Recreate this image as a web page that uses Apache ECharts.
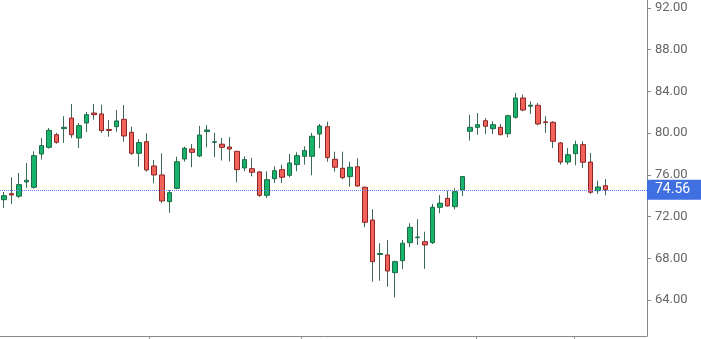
<!DOCTYPE html>
<html><head><meta charset="utf-8">
<script src="https://cdn.jsdelivr.net/npm/echarts@6/dist/echarts.min.js"></script>
<style>html,body{margin:0;padding:0;background:#fff;overflow:hidden}#c{width:701px;height:339px}</style>
</head><body><div id="c"></div>
<script>
const opens  = [73.62,74.20,73.95,75.32,74.81,78.00,78.64,79.85,80.43,81.45,79.54,80.97,81.93,81.84,80.35,80.62,81.33,80.08,78.07,79.18,76.85,75.99,73.43,74.71,77.52,78.48,77.81,80.15,79.12,78.94,78.67,78.26,76.66,76.59,76.28,74.04,75.63,76.50,75.96,76.98,77.78,77.78,79.92,80.62,77.49,76.63,75.83,76.78,74.81,71.67,68.37,68.32,66.62,67.77,69.50,69.98,69.59,69.50,72.89,73.75,72.95,74.55,80.18,80.56,81.19,80.43,80.56,79.95,81.52,83.37,82.58,82.67,81.08,81.04,79.06,77.23,78.03,78.89,77.23,74.48,74.96];
const closes = [74.00,74.07,75.06,75.48,77.84,78.80,80.27,79.12,80.56,79.85,80.72,81.77,81.77,80.24,80.26,81.17,79.73,78.07,79.09,76.47,75.99,73.50,74.29,77.26,78.55,78.16,79.82,80.30,79.17,78.64,78.48,76.50,77.46,76.25,74.04,75.54,76.40,75.77,77.14,77.84,78.32,79.70,80.69,77.65,76.73,75.73,76.73,74.93,71.45,67.68,68.46,66.78,67.68,69.44,70.97,70.04,69.28,72.89,73.28,73.02,74.39,75.83,80.56,80.81,80.66,80.81,79.85,81.67,83.37,82.22,82.68,80.88,81.02,79.22,77.23,77.93,78.89,77.21,74.33,74.84,74.56];
const lows   = [72.82,73.21,73.78,74.74,74.67,77.46,78.51,78.99,79.06,79.54,78.58,80.11,81.29,80.02,79.66,80.14,79.18,77.91,76.78,76.31,75.19,73.28,72.37,74.62,77.26,76.73,77.69,78.64,77.69,77.38,77.30,75.29,76.34,75.86,73.88,73.78,75.22,75.22,75.77,76.34,76.98,75.96,78.55,77.26,76.31,75.58,74.87,74.87,70.97,65.76,65.85,65.28,64.26,66.95,69.06,69.28,66.98,69.37,72.32,72.95,72.70,73.98,79.28,79.85,79.92,79.92,79.80,79.60,81.39,82.10,81.84,80.75,80.02,78.58,76.98,76.98,76.92,76.66,74.17,74.17,74.04];
const highs  = [74.36,75.77,76.18,77.14,78.26,79.54,80.50,80.02,81.62,82.80,80.97,82.03,82.80,82.73,81.26,82.22,82.70,80.62,79.41,79.99,77.43,78.07,74.55,77.74,78.70,78.96,80.69,80.78,80.02,79.54,79.63,78.29,77.78,77.62,76.37,76.34,76.82,76.98,78.00,78.16,78.74,80.02,80.88,81.10,78.22,78.22,77.26,77.59,74.87,72.70,69.44,69.76,67.77,69.76,71.36,71.74,70.55,73.21,74.07,74.48,74.71,75.87,81.77,81.93,81.45,81.14,80.88,81.77,83.85,83.69,83.05,82.89,81.62,81.14,79.15,78.58,79.28,79.22,78.10,75.44,75.60];
const slotCount = 86;
const yTicks = [64, 68, 72, 76, 80, 84, 88, 92];
const xTickSlots = [19.8, 40.0, 63.3, 76.3];
const lastPrice = closes[closes.length - 1];

const categories = Array.from({length: slotCount}, (_, i) => String(i + 1));
const wickData = opens.map((o, i) => [o, closes[i], lows[i], highs[i]]);
const bodyData = opens.map((o, i) => [o, closes[i], Math.min(o, closes[i]), Math.max(o, closes[i])]);

const wick = '#3e6b58';
const chart = echarts.init(document.getElementById('c'), null, {renderer: 'canvas'});
chart.setOption({
  animation: false,
  backgroundColor: '#ffffff',
  grid: {left: 0, right: 54, top: 0, bottom: 3, containLabel: false},
  xAxis: [
    {type: 'category', data: categories, boundaryGap: true, position: 'bottom',
     axisLine: {show: true, onZero: false, lineStyle: {color: '#888', width: 1}},
     axisTick: {show: false}, axisLabel: {show: false}, splitLine: {show: false}},
    {type: 'value', min: 0, max: slotCount, position: 'bottom',
     axisLine: {show: false, onZero: false},
     axisTick: {show: true, customValues: xTickSlots, length: 6, lineStyle: {color: '#888'}},
     axisLabel: {show: false}, splitLine: {show: false}}
  ],
  yAxis: {
    type: 'value', position: 'right', min: 60.548, max: 92.767, scale: true,
    axisLine: {show: true, onZero: false, lineStyle: {color: '#888', width: 1}},
    axisTick: {show: true, customValues: yTicks, length: 4, lineStyle: {color: '#888'}},
    axisLabel: {customValues: yTicks, formatter: v => v.toFixed(2), color: '#666', fontSize: 13,
                fontFamily: 'Roboto, Arial, sans-serif', margin: 8},
    splitLine: {show: false}
  },
  series: [
    {type: 'candlestick', name: 'wick', xAxisIndex: 0, data: wickData, barWidth: 1, silent: true,
     itemStyle: {color: wick, color0: wick, borderColor: wick, borderColor0: wick, borderWidth: 1}},
    {type: 'candlestick', name: 'body', xAxisIndex: 0, data: bodyData, barWidth: 5, silent: true,
     itemStyle: {color: '#17b36c', color0: '#f2625b', borderColor: '#1b6a44', borderColor0: '#8c2424', borderWidth: 1},
     markLine: {
       silent: true, symbol: ['none', 'none'],
       lineStyle: {color: '#5b7cff', type: 'dotted', width: 1},
       label: {position: 'end', distance: 0, formatter: () => lastPrice.toFixed(2),
               backgroundColor: '#3f6fe0', color: '#ffffff', fontSize: 14,
               fontFamily: 'Roboto, Arial, sans-serif', padding: [3, 12, 3, 8]},
       data: [{yAxis: lastPrice}]
     }}
  ]
});
</script></body></html>
